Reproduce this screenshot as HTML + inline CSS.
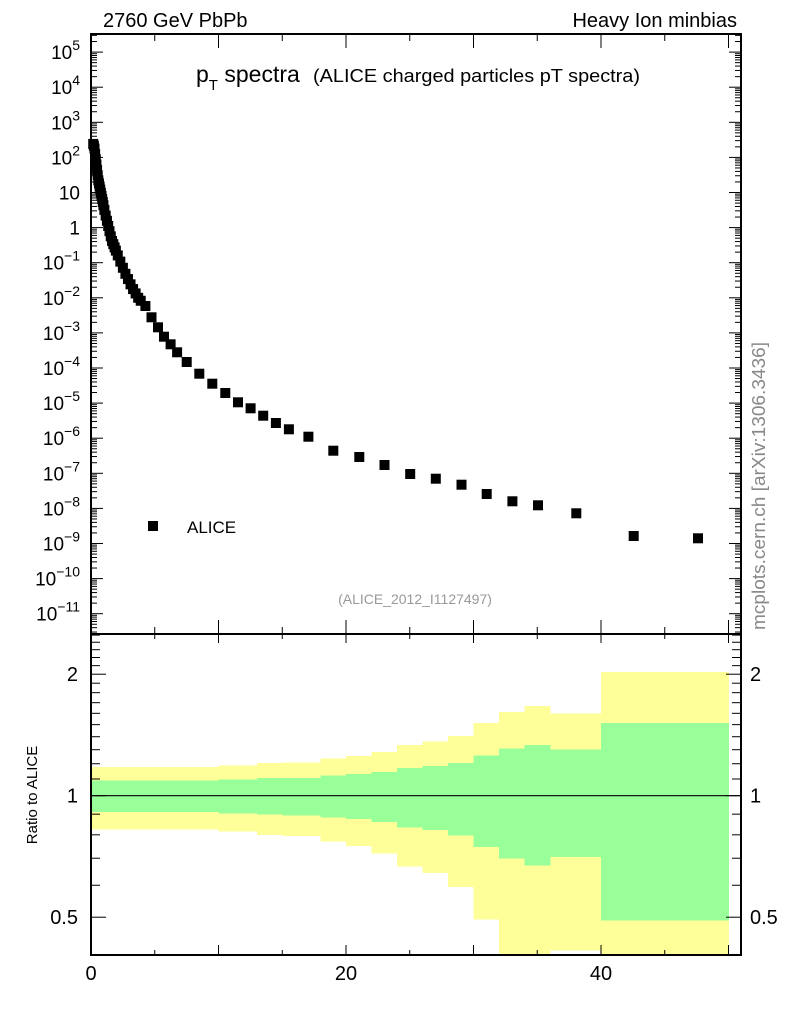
<!DOCTYPE html>
<html><head><meta charset="utf-8"><style>
html,body{margin:0;padding:0;background:#fff;}
svg text{font-family:"Liberation Sans",Arial,sans-serif;}
</style></head><body>
<svg id="s" width="786" height="1024" xmlns="http://www.w3.org/2000/svg"></svg>
<script>
const S=document.getElementById('s');let h='';
const L=91,R=741,T=34,M=634,B=955;
const X=p=>L+p*12.75;
const yl=v=>192.5-(v-1)*35.1;
const yr=r=>795.7-121.5*Math.log2(r);
const bands=[[0,10,767,780.5,812,829.5],[10,13,765.5,779.3,813.3,831.7],[13,15,763,778,814.7,835],[15,18,762.3,778,815.7,836],[18,20,758.7,775.7,817.3,841.7],[20,22,756,774,819,846],[22,24,752,772,822,853.3],[24,26,745,768,827.3,866.7],[26,28,741.7,766,830,873],[28,30,736,763,835.3,887],[30,32,723,755.3,847,919.3],[32,34,712,748.7,858.7,955],[34,36,706,745,865.7,955],[36,40,713.7,749.7,857,950.7],[40,50,672,723,920.3,955]];
h+='<g shape-rendering="crispEdges">';
for(const b of bands){const x0=X(b[0]),w=X(b[1])-x0+0.5;
h+=`<rect x="${x0}" y="${b[2]}" width="${w}" height="${b[5]-b[2]}" fill="#ffff99"/>`;}
for(const b of bands){const x0=X(b[0]),w=X(b[1])-x0+0.5;
h+=`<rect x="${x0}" y="${b[3]}" width="${w}" height="${b[4]-b[3]}" fill="#99ff99"/>`;}
h+='</g>';
h+=`<line x1="${L}" x2="${R}" y1="795.7" y2="795.7" stroke="#000" stroke-width="1.2"/>`;
const anchors=[[0.15,143],[0.26,147],[0.57,180],[1.1,213],[1.62,240],[2.14,256.7],[2.67,273],[3.19,286.7],[3.71,298],[4.26,306]];
function interp(p){for(let i=0;i<anchors.length-1;i++){const a=anchors[i],c=anchors[i+1];if(p<=c[0]){return a[1]+(c[1]-a[1])*(p-a[0])/(c[0]-a[0]);}}return anchors[anchors.length-1][1];}
let pts=[];
for(let p=0.175;p<1;p+=0.05)pts.push([p,interp(p)]);
for(let p=1.05;p<2;p+=0.1)pts.push([p,interp(p)]);
for(let p=2.1;p<4;p+=0.2)pts.push([p,interp(p)]);
const px=[[145.4,306],[151.5,317.3],[158,327.3],[164,336.7],[170.6,344.3],[177.1,352.3],[186.7,362],[199.3,373.7],[212.3,383.7],[225.3,393],[238,402.3],[250.6,408.3],[263.2,415.7],[275.9,423],[288.9,429.3],[308.4,436.7],[333.3,450.7],[359.3,457],[384.5,465],[410.2,474],[435.8,478.7],[461.5,484.7],[486.7,494],[512.4,501.3],[538,505.3],[576.3,513.3],[633.7,536],[698,538.3]];
for(const q of pts)h+=`<rect x="${X(q[0])-5}" y="${q[1]-5}" width="10" height="10"/>`;
for(const q of px)h+=`<rect x="${q[0]-5}" y="${q[1]-5}" width="10" height="10"/>`;
h+=`<rect x="${L}" y="${T}" width="${R-L}" height="${B-T}" fill="none" stroke="#000" stroke-width="2"/>`;
h+=`<line x1="${L}" x2="${R}" y1="${M}" y2="${M}" stroke="#000" stroke-width="2"/>`;
for(let p=0;p<=50;p+=5){const x=X(p),maj=p%10==0;
h+=`<line x1="${x}" x2="${x}" y1="${T}" y2="${T+(maj?14:7)}" stroke="#000"/>`;
h+=`<line x1="${x}" x2="${x}" y1="${M}" y2="${M-(maj?14:7)}" stroke="#000"/>`;
h+=`<line x1="${x}" x2="${x}" y1="${M}" y2="${M+(maj?9:5)}" stroke="#000"/>`;
h+=`<line x1="${x}" x2="${x}" y1="${B}" y2="${B-(maj?10:5)}" stroke="#000"/>`;}
for(const p of [0,20,40])h+=`<text x="${X(p)}" y="980" font-size="20" text-anchor="middle">${p}</text>`;
for(let d=-12;d<=5;d++){for(let k=1;k<10;k++){const v=d+Math.log10(k);if(v<-11.61||v>5.53)continue;const y=yl(v),len=k==1?12:6;
h+=`<line x1="${L}" x2="${L+len}" y1="${y}" y2="${y}" stroke="#000"/>`;
h+=`<line x1="${R}" x2="${R-len}" y1="${y}" y2="${y}" stroke="#000"/>`;}}
for(let d=-11;d<=5;d++){const y=yl(d)+7;let t;
if(d==0)t='1';else if(d==1)t='10';else t=`10<tspan dy="-9" font-size="14">${d<0?'\u2212'+(-d):d}</tspan>`;
h+=`<text x="80" y="${y}" font-size="19" text-anchor="end">${t}</text>`;}
const rt=[0.4,0.5,0.6,0.7,0.8,0.9,1,1.1,1.2,1.3,1.4,1.5,1.6,1.7,1.8,1.9,2,2.1,2.2,2.3,2.4,2.5];
for(const r of rt){const y=yr(r);if(y<M||y>B)continue;const maj=(r==0.5||r==1||r==2),len=maj?15:9;
h+=`<line x1="${L}" x2="${L+len}" y1="${y}" y2="${y}" stroke="#000"/>`;
h+=`<line x1="${R}" x2="${R-len}" y1="${y}" y2="${y}" stroke="#000"/>`;}
for(const [r,t] of [[0.5,'0.5'],[1,'1'],[2,'2']]){const y=yr(r)+7;
h+=`<text x="78" y="${y}" font-size="20" text-anchor="end">${t}</text>`;
h+=`<text x="750" y="${y}" font-size="20">${t}</text>`;}
h+=`<text x="103" y="27" font-size="20">2760 GeV PbPb</text>`;
h+=`<text x="737" y="27" font-size="20" text-anchor="end">Heavy Ion minbias</text>`;
h+=`<text x="196" y="82" font-size="23">p<tspan dy="8" font-size="15">T</tspan><tspan dy="-8"> spectra</tspan></text>`;
h+=`<text x="313" y="82" font-size="18.5" textLength="327" lengthAdjust="spacingAndGlyphs">(ALICE charged particles pT spectra)</text>`;
h+=`<rect x="148" y="521" width="10" height="10"/><text x="187" y="533" font-size="17">ALICE</text>`;
h+=`<text x="415" y="604" font-size="14" fill="#999" text-anchor="middle">(ALICE_2012_I1127497)</text>`;
h+=`<text transform="translate(765,486) rotate(-90)" font-size="18" fill="#888" text-anchor="middle" textLength="288" lengthAdjust="spacingAndGlyphs">mcplots.cern.ch [arXiv:1306.3436]</text>`;
h+=`<text transform="translate(37,795) rotate(-90)" font-size="15" text-anchor="middle">Ratio to ALICE</text>`;
S.innerHTML=h;
</script>
</body></html>
